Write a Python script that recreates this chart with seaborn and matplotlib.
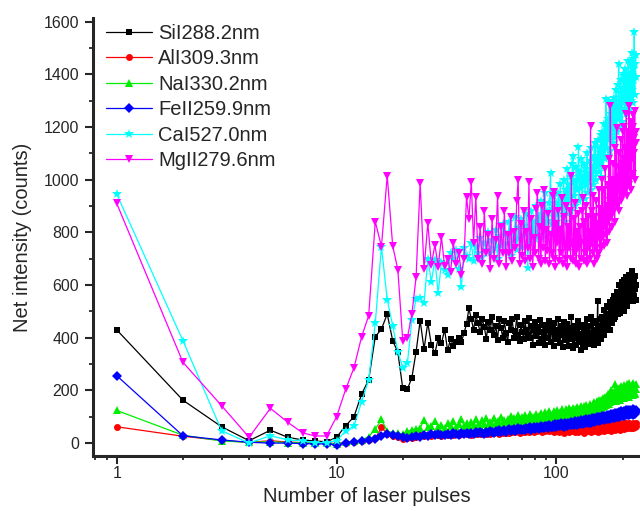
import numpy as np
import pandas as pd
import matplotlib
matplotlib.use("Agg")
import matplotlib.pyplot as plt
import seaborn as sns
from matplotlib.ticker import LogLocator, FixedLocator, MultipleLocator, NullFormatter

pulses = list(range(1, 231))

si_288 = [
    430,163,62,9,49,22,12,8,5,22,
    66,100,186,240,404,433,490,389,345,208,
    205,248,347,465,357,457,372,341,398,379,
    430,352,395,370,382,400,385,418,452,512,
    470,430,485,455,420,470,440,395,460,428,
    478,410,445,392,470,436,400,462,418,385,
    455,430,470,398,425,480,410,388,450,420,
    395,462,430,410,475,400,445,372,430,458,
    405,440,380,468,420,395,450,410,372,445,
    430,398,465,385,420,440,370,455,405,430,
    395,470,410,380,445,420,365,458,400,435,
    390,452,415,370,438,405,480,395,360,425,
    410,445,372,430,398,462,385,415,355,440,
    405,378,450,420,365,435,395,470,410,380,
    445,400,375,480,418,390,455,372,430,405,
    465,395,420,540,380,445,410,470,430,395,
    480,425,455,410,505,440,470,430,520,455,
    490,445,515,470,430,535,480,500,455,545,
    495,470,560,510,480,540,500,575,525,490,
    555,515,600,530,495,570,540,610,520,560,
    590,535,620,500,575,545,630,560,595,520,
    605,570,545,640,580,610,550,600,565,655,
    590,540,620,575,610,560,635,585,545,600,
]

al_309 = [
    62,26,10,3,9,4,2,1,1,-2,
    2,5,8,12,18,60,35,28,22,15,
    18,20,24,30,26,32,28,34,30,27,
    33,29,36,31,38,30,35,40,33,37,
    32,39,35,42,34,38,44,36,40,35,
    43,37,41,46,36,44,39,48,40,45,
    38,47,42,50,41,45,52,40,48,44,
    51,43,47,55,42,50,46,53,44,49,
    56,45,51,48,58,44,53,50,46,57,
    49,54,45,60,50,47,56,42,52,58,
    48,55,44,60,51,46,57,40,53,49,
    62,47,54,43,58,50,45,61,48,55,
    44,59,51,47,63,42,55,49,60,46,
    57,52,40,62,48,56,45,64,50,53,
    47,61,55,43,66,50,58,45,62,52,
    48,65,55,44,60,51,68,47,58,53,
    63,49,70,55,46,64,57,52,68,48,
    61,55,72,50,66,58,45,70,60,53,
    74,56,62,48,69,60,75,52,65,58,
    71,55,63,76,50,68,60,73,57,66,
    62,78,55,70,64,58,75,60,68,72,
    56,74,65,60,77,62,70,58,73,66,
    61,76,68,59,72,64,70,62,75,66,
]

na_330 = [
    124,30,8,3,5,2,1,0,0,-3,
    3,8,12,25,52,90,45,40,38,35,
    45,50,55,58,88,60,65,82,62,70,
    58,75,64,85,60,72,90,66,78,62,
    80,68,92,70,64,86,74,95,68,80,
    72,96,76,84,70,100,78,88,74,92,
    82,102,76,94,86,80,105,90,78,98,
    88,108,82,96,90,110,84,100,92,86,
    112,94,102,88,115,96,90,106,118,92,
    104,98,120,94,108,100,122,96,112,104,
    125,100,110,118,98,128,106,114,102,130,
    110,120,104,132,115,108,124,112,135,118,
    106,128,116,138,110,122,130,114,140,120,
    126,112,142,124,132,118,145,128,120,138,
    130,148,122,136,126,150,134,124,155,132,
    140,128,158,136,146,130,162,142,134,165,
    145,138,170,150,142,175,155,146,180,152,
    160,185,148,165,190,156,170,200,158,175,
    195,162,178,225,168,185,160,205,175,190,
    170,210,182,165,198,176,215,185,170,205,
    188,172,220,190,178,208,185,175,225,195,
    180,215,192,176,228,198,185,210,182,220,
    195,182,230,200,188,215,192,185,225,205,
]

fe_259 = [
    256,28,12,3,0,0,-2,-3,-3,-8,
    0,5,8,12,15,27,33,30,28,22,
    20,24,28,25,31,28,34,30,36,32,
    29,35,31,38,33,30,37,34,40,36,
    38,33,41,37,43,39,36,44,40,46,
    42,38,47,43,49,41,46,50,44,48,
    52,45,49,54,47,51,56,48,53,50,
    55,49,58,52,56,60,51,57,62,54,
    59,63,55,60,65,57,62,58,66,61,
    64,58,68,62,60,70,63,66,72,61,
    67,73,64,69,75,66,71,63,77,68,
    72,65,78,70,74,68,80,71,76,69,
    82,73,77,70,84,75,79,72,86,76,
    80,74,88,78,82,75,90,79,85,77,
    92,81,86,78,94,83,88,80,96,85,
    90,82,98,87,93,84,100,88,95,86,
    102,90,96,88,104,92,98,90,106,94,
    100,91,108,96,102,93,110,98,104,95,
    112,99,106,97,114,101,108,98,116,103,
    110,100,118,105,112,102,120,107,114,104,
    118,108,122,103,115,110,125,106,119,112,
    108,124,114,105,121,111,126,109,118,113,
    122,107,128,115,110,124,117,112,126,119,
]

ca_527 = [
    945,389,47,0,28,12,8,2,2,9,
    46,65,157,240,455,746,544,446,347,286,
    303,468,546,550,531,698,613,696,569,689,
    658,640,720,700,735,660,594,740,710,700,
    760,690,745,720,780,705,760,735,800,720,
    770,740,810,700,785,750,830,725,795,760,
    840,710,800,770,860,735,815,780,850,745,
    825,790,870,665,810,760,880,800,840,775,
    900,790,860,820,920,780,870,835,950,800,
    880,845,910,1025,830,890,860,940,800,910,
    870,950,820,985,890,930,860,1000,840,960,
    900,1040,870,980,920,1010,880,1060,1089,940,
    990,900,1050,960,1000,1123,920,1030,970,1080,
    940,1010,990,1060,925,1040,980,1100,950,1020,
    1000,1070,960,1120,1010,1050,980,1090,1030,1140,
    1000,1080,1050,1150,1089,1030,1120,1060,1170,1010,
    1100,1180,1050,1140,1210,1080,1160,1307,1120,1200,
    1090,1230,1150,1300,1180,1110,1250,1170,1290,1140,
    1220,1190,1310,1160,1260,1200,1340,1180,1280,1230,
    1360,1441,1250,1300,1200,1380,1270,1330,1220,1350,
    1290,1400,1395,1260,1340,1420,1300,1250,1380,1330,
    1280,1450,1360,1310,1400,1270,1440,1350,1300,1480,
    1340,1420,1290,1460,1380,1560,1320,1440,1390,1475,
]

mg_279 = [
    910,307,142,22,132,79,39,27,27,100,
    204,286,404,484,841,746,1015,749,658,389,
    400,489,630,987,660,835,677,753,670,782,
    672,700,650,760,680,720,640,700,936,850,
    993,760,936,700,820,680,880,720,790,660,
    850,700,770,939,680,820,720,880,670,790,
    720,860,690,800,740,920,1000,680,830,710,
    880,690,800,740,990,700,850,670,780,720,
    890,949,700,820,680,900,740,960,690,810,
    730,870,680,790,720,940,700,955,670,830,
    760,880,690,810,720,930,680,860,750,700,
    900,670,820,740,880,700,1015,760,690,850,
    720,910,680,800,740,870,670,820,760,700,
    880,930,690,840,720,900,760,680,860,740,
    800,700,1205,760,880,720,940,790,680,860,
    740,920,700,830,780,960,720,890,800,740,
    1000,780,880,750,960,820,1040,790,900,760,
    980,840,1080,800,920,1281,860,1000,820,940,
    1060,880,1000,840,1120,920,1050,1196,900,1010,
    960,1100,880,1040,980,1150,920,1060,1000,1180,
    940,1080,1020,1200,960,1120,1000,1250,940,1100,
    1040,1180,980,1280,1060,1140,1000,1220,960,1120,
    1080,1200,1247,1020,1160,1100,1260,1000,1140,1180,
]

series_labels = ["SiI288.2nm", "AlI309.3nm", "NaI330.2nm",
                 "FeII259.9nm", "CaI527.0nm", "MgII279.6nm"]
series_values = [si_288, al_309, na_330, fe_259, ca_527, mg_279]
series_colors = ["#000000", "#ff0000", "#00ee00", "#0000ff", "#00ffff", "#ff00ff"]
series_markers = ["s", "o", "^", "D", "*", "v"]
series_msize = [5.0, 5.0, 5.5, 4.6, 7.0, 6.0]

sns.set_style("ticks")
plt.rcParams["font.family"] = ["Liberation Sans", "DejaVu Sans"]

fig = plt.figure(figsize=(6.4, 5.11), dpi=100)
ax = fig.add_axes([93/640, 55/511, 547/640, 438/511])

for lab, vals, col, mk, ms in zip(series_labels, series_values, series_colors,
                                   series_markers, series_msize):
    df = pd.DataFrame({"pulses": pulses, "value": vals})
    sns.lineplot(data=df, x="pulses", y="value", ax=ax, color=col, marker=mk,
                 markersize=ms, markeredgewidth=0, linewidth=0.9,
                 label=lab, estimator=None, sort=False)

ax.set_xscale("log")
ax.set_xlim(0.78, 240)
ax.set_ylim(-49, 1614)

ax.xaxis.set_major_locator(FixedLocator([1, 10, 100]))
ax.set_xticklabels(["1", "10", "100"])
ax.xaxis.set_minor_locator(LogLocator(base=10, subs=np.arange(2, 10)))
ax.xaxis.set_minor_formatter(NullFormatter())
ax.yaxis.set_major_locator(MultipleLocator(200))
ax.yaxis.set_minor_locator(MultipleLocator(100))

for s in ["top", "right"]:
    ax.spines[s].set_visible(False)
for s in ["left", "bottom"]:
    ax.spines[s].set_linewidth(2.2)

ax.tick_params(axis="both", which="major", direction="out", length=6, width=1.5,
               labelsize=11.5)
ax.tick_params(axis="both", which="minor", direction="out", length=3, width=1.3)
ax.tick_params(axis="x", which="major", pad=1.5)
ax.tick_params(axis="y", which="major", pad=4)

ax.set_xlabel("Number of laser pulses", fontsize=14.5, labelpad=4)
ax.set_ylabel("Net intensity (counts)", fontsize=14.5, labelpad=8)

leg = ax.legend(loc="upper left", frameon=False, fontsize=14.5,
                handlelength=2.3, handletextpad=0.3, labelspacing=0.32,
                borderaxespad=0.0, bbox_to_anchor=(0.009, 1.005))

fig.savefig("out.png", dpi=100)
